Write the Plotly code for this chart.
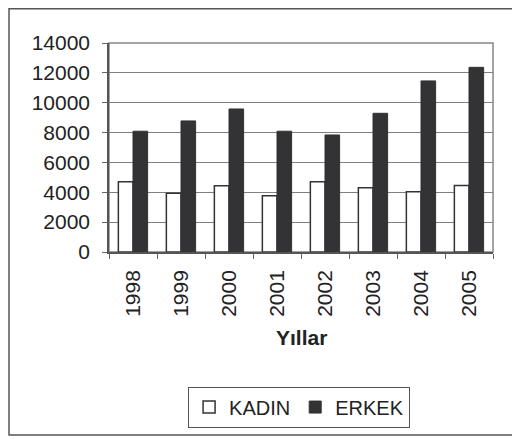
import plotly.graph_objects as go

years = ["1998", "1999", "2000", "2001", "2002", "2003", "2004", "2005"]
kadin = [4700, 3930, 4440, 3770, 4700, 4310, 4040, 4460]
erkek = [8090, 8780, 9580, 8090, 7840, 9290, 11460, 12370]

family = "Liberation Sans, Arial, sans-serif"
dark = "#222222"

fig = go.Figure()
fig.add_trace(go.Bar(
    x=years, y=kadin, name="KADIN",
    marker=dict(color="white", line=dict(color="#333333", width=1.5)),
))
fig.add_trace(go.Bar(
    x=years, y=erkek, name="ERKEK",
    marker=dict(color="#333336", line=dict(color="#333336", width=1)),
))

# plot area frame (top/right in grey-brown)
fig.add_shape(type="rect", xref="paper", yref="paper", x0=0, x1=1, y0=0, y1=1,
              line=dict(color="#8c8282", width=1.5), layer="below")
# outer chart border (page has an 8px body margin, so keep it inside the figure)
fig.add_shape(type="rect", xref="paper", yref="paper",
              x0=-0.2604, x1=1.0625, y0=-0.8756, y1=1.1637,
              line=dict(color="#555555", width=1.5), layer="below")

fig.add_annotation(text="<b>Yıllar</b>", xref="paper", yref="paper",
                   x=0.5, y=-0.41, yanchor="middle", showarrow=False,
                   font=dict(family=family, size=21, color=dark))

fig.update_layout(
    width=512, height=431,
    margin=dict(l=101, r=27, t=35, b=187),
    paper_bgcolor="white", plot_bgcolor="white",
    font=dict(family=family, size=21, color=dark),
    barmode="group", bargap=0.39, bargroupgap=0,
    showlegend=True,
    legend=dict(orientation="h", x=0.495, y=-0.742, xanchor="center", yanchor="middle",
                bordercolor="#555555", borderwidth=1, itemwidth=30,
                font=dict(family=family, size=20, color=dark)),
    xaxis=dict(
        tickangle=-90, ticks="outside", ticklen=5, tickcolor="#666666",
        tickson="boundaries", showline=True, linecolor="#555555", linewidth=1.5,
        showgrid=False, ticklabelstandoff=8,
    ),
    yaxis=dict(
        range=[0, 14000], dtick=2000, tickformat="d",
        ticks="outside", ticklen=5, tickcolor="#666666",
        showline=True, linecolor="#555555", linewidth=1.5,
        showgrid=True, gridcolor="#808080", gridwidth=1, zeroline=False,
        ticklabelstandoff=8,
    ),
)

fig.write_html("out.html")
